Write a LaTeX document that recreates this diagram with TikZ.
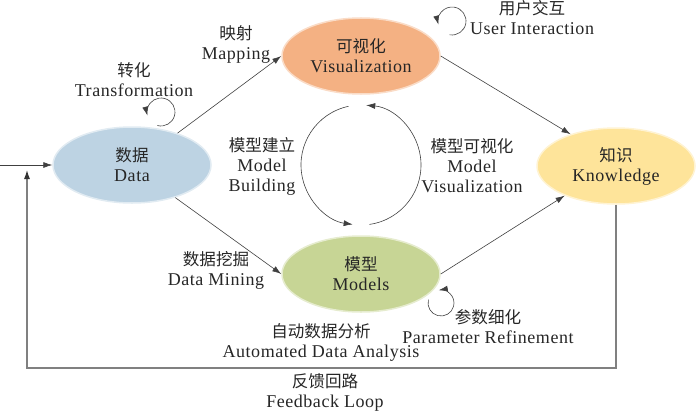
\documentclass[tikz,border=0pt]{standalone}
\usepackage{fontspec}
\setmainfont{Liberation Serif}[LetterSpace=3.0]
\newfontfamily\zh{Noto Sans CJK SC}[Scale=0.92]
\usetikzlibrary{shapes.geometric,arrows.meta}

\definecolor{datablue}{HTML}{BDD3E3}
\definecolor{vizorange}{HTML}{F4B183}
\definecolor{knowyellow}{HTML}{FEE49A}
\definecolor{modelgreen}{HTML}{C7D595}

\tikzset{
  ->/.style={draw=black!75,line width=0.6pt,-{Latex[length=9pt,width=6pt]}},
  fb/.style={draw=black!50,line width=1.1pt,-{Latex[length=9pt,width=6pt,color=black!80]}},
  stage/.style={ellipse,minimum width=158pt,minimum height=76pt,inner sep=0pt,align=center,
    fill=#1,draw=#1!45!white,line width=1.5pt}
}
\tikzstyle{every node}=[color=black!85,font=\fontsize{18}{20}\selectfont]

\begin{document}
\begin{tikzpicture}[x=1pt,y=1pt]
    \useasboundingbox (0,0) rectangle (700,-412);
    % stages
    \node[stage=vizorange] (V) at (361,-56) {{\zh 可视化}\\Visualization};
    \node[stage=datablue] (D) at (132,-165) {{\zh 数据}\\Data};
    \node[stage=knowyellow] (K) at (616,-166) {{\zh 知识}\\Knowledge};
    \node[stage=modelgreen] (M) at (361,-274) {{\zh 模型}\\Models};
    \coordinate (in) at (0,-165);
    \coordinate (fb) at (27,-368);
    \coordinate (fbend) at (27,-170);
    \coordinate (cyc) at (361,-165);
    \coordinate (tf) at (161,-112);
    \coordinate (ui) at (452,-21);
    \coordinate (pr) at (441,-303);
    % arrows
    \draw[->] (in) -- (D.west);
    \draw[->] (D.35) -- (V.west);
    \draw[->] (V.east) -- (K.145);
    \draw[->] (D.-37) -- (M.west);
    \draw[->] (M.east) -- (K.210);
    \draw[fb] (K.south) |- (fb) -- (fbend);
    % loops
    \draw[->] ([shift={(102:60)}]cyc) arc (102:262:60);
    \draw[->] ([shift={(-82:60)}]cyc) arc (-82:85:60);
    \draw[->] ([shift={(-105:14)}]tf) arc (-105:195:14);
    \draw[->] ([shift={(-100:14)}]ui) arc (-100:195:14);
    \draw[->] ([shift={(165:13)}]pr) arc (165:460:13);
    % labels
    \node[align=center] (lmap) at (236,-44) {{\zh 映射}\\Mapping};
    \node[align=center] (ltf) at (134,-80) {{\zh 转化}\\Transformation};
    \node[align=center] (lui) at (532,-18) {{\zh 用户交互}\\User Interaction};
    \node[align=center] (lmb) at (262,-166) {{\zh 模型建立}\\Model\\Building};
    \node[align=center] (lmv) at (472,-166) {{\zh 模型可视化}\\Model\\Visualization};
    \node[align=center] (ldm) at (216,-270) {{\zh 数据挖掘}\\Data Mining};
    \node[align=center] (lada) at (321,-342) {{\zh 自动数据分析}\\Automated Data Analysis};
    \node[align=center] (lpr) at (488,-327) {{\zh 参数细化}\\Parameter Refinement};
    \node[align=center] (lfb) at (325,-392) {{\zh 反馈回路}\\Feedback Loop};
\end{tikzpicture}
\end{document}
